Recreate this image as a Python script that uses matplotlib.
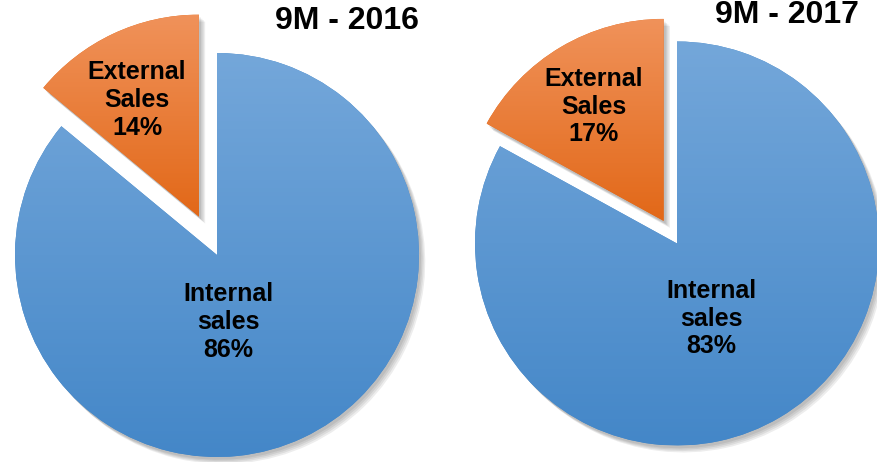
import numpy as np
import matplotlib
matplotlib.use("Agg")
import matplotlib.pyplot as plt
import matplotlib.patheffects as pe

plt.rcParams['font.family'] = ['Liberation Sans', 'DejaVu Sans']

# data
titles = ["9M - 2016", "9M - 2017"]
segments = ["Internal\nsales", "External\nSales"]
shares_2016 = [86, 14]
shares_2017 = [83, 17]
explode_2016 = [0, 0.21]   # fraction of radius
explode_2017 = [0, 0.13]

# layout (pixel-like data coords, y up)
W, H = 877, 462
R = 202
centers = [(217, H - 255), (677, H - 243.5)]
title_pos = [(347, H - 21), (787, H - 15)]
# label offsets from pie centre (px)
int_off = [(11, -67), (34, -75)]
ext_off = [(-80, 155), (-83, 137)]

blue_top, blue_bot = np.array([116, 167, 218]) / 255, np.array([68, 135, 200]) / 255
orng_top, orng_bot = np.array([240, 146, 90]) / 255, np.array([226, 104, 24]) / 255

fig = plt.figure(figsize=(W / 100, H / 100), dpi=100)
ax = fig.add_axes([0, 0, 1, 1])

shadow = [pe.SimplePatchShadow(offset=(1.5 + i, -2 - i), shadow_rgbFace='black', alpha=0.07)
          for i in range(4)] + [pe.Normal()]


def gradient_fill(wedge, top, bot):
    x0, y0, x1, y1 = wedge.get_path().transformed(wedge.get_patch_transform()).get_extents().extents
    n = 200
    t = np.linspace(0, 1, n)[:, None]
    img = top * (1 - t) + bot * t
    img = np.repeat(img[:, None, :], 2, axis=1)
    im = ax.imshow(img, extent=(x0, x1, y0, y1), origin='upper', aspect='auto',
                   interpolation='bilinear', zorder=3)
    im.set_clip_path(wedge)


for k, (shares, explode) in enumerate([(shares_2016, explode_2016), (shares_2017, explode_2017)]):
    cx, cy = centers[k]
    wedges, _ = ax.pie(shares, explode=[e * R for e in explode], startangle=90, counterclock=False,
                       center=(cx, cy), radius=R, colors=[blue_bot, orng_bot],
                       frame=True, wedgeprops=dict(linewidth=0, zorder=2))
    for w in wedges:
        w.set_path_effects(shadow)
    gradient_fill(wedges[0], blue_top, blue_bot)
    gradient_fill(wedges[1], orng_top, orng_bot)

    ax.text(cx + int_off[k][0], cy + int_off[k][1], f"{segments[0]}\n{shares[0]}%",
            ha='center', va='center', fontsize=18, fontweight='bold', linespacing=1.2, zorder=5)
    ax.text(cx + ext_off[k][0], cy + ext_off[k][1], f"{segments[1]}\n{shares[1]}%",
            ha='center', va='center', fontsize=18, fontweight='bold', linespacing=1.2, zorder=5)
    ax.text(title_pos[k][0], title_pos[k][1], titles[k], ha='center', va='center',
            fontsize=23, fontweight='bold', zorder=5)

ax.set_xlim(0, W)
ax.set_ylim(0, H)
ax.set_aspect('equal')
ax.axis('off')
fig.savefig("out.png", dpi=100)
